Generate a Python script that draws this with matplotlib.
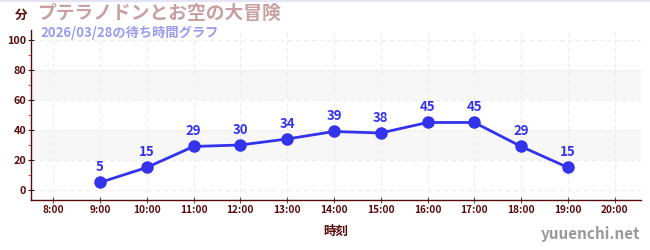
import matplotlib
matplotlib.use("Agg")
import matplotlib.pyplot as plt

plt.rcParams['font.family'] = ['Noto Sans CJK JP', 'DejaVu Sans']

hours = [9, 10, 11, 12, 13, 14, 15, 16, 17, 18, 19]
waits = [5, 15, 29, 30, 34, 39, 38, 45, 45, 29, 15]
xticks = list(range(8, 21))
xticklabels = [f"{h}:00" for h in xticks]
yticks = [0, 20, 40, 60, 80, 100]

title = "プテラノドンとお空の大冒険"
subtitle = "2026/03/28の待ち時間グラフ"

dark = "#5a0a0a"
blue = "#3333ee"

fig = plt.figure(figsize=(6.5, 2.5), dpi=100)
ax = fig.add_axes([0.048, 0.2, 0.938, 0.68])

ax.set_xlim(7.53, 20.56)
ax.set_ylim(-6.7, 106.7)

# 背景の帯
for lo, hi in [(20, 40), (60, 80)]:
    ax.axhspan(lo, hi, color="#f7f7f7", zorder=0, lw=0)

ax.set_xticks(xticks)
ax.set_xticklabels(xticklabels)
ax.set_yticks(yticks)
ax.set_yticks(range(10, 101, 20), minor=True)
ax.grid(True, which="major", linestyle=(0, (4, 3)), color="#ececec", lw=0.8)
ax.set_axisbelow(True)

for s in ["top", "right"]:
    ax.spines[s].set_visible(False)
for s in ["left", "bottom"]:
    ax.spines[s].set_color(dark)
    ax.spines[s].set_linewidth(1.0)

ax.tick_params(axis="x", direction="inout", length=5, colors="#555555", labelcolor=dark, labelsize=7.3, pad=1)
ax.tick_params(axis="y", which="major", direction="inout", length=5, colors="#222222", labelcolor=dark, labelsize=7.8, pad=1)
ax.tick_params(axis="y", which="minor", direction="out", length=2.5, colors="#dd2222")

for lab in ax.get_xticklabels() + ax.get_yticklabels():
    lab.set_fontweight("bold")

ax.plot(hours, waits, color=blue, lw=2.0, marker="o", markersize=8, zorder=3)
for x, y in zip(hours, waits):
    ax.annotate(str(y), xy=(x, y), xytext=(0, 6), textcoords="offset points",
                ha="center", va="bottom", color=blue, fontsize=9.5, fontweight="bold")

ax.set_xlabel("時刻", color=dark, fontsize=9, fontweight="bold", labelpad=7)

fig.text(0.032, 0.94, "分", color=dark, fontsize=9, fontweight="bold", ha="center", va="center")
fig.text(0.057, 0.945, title, color="#c8a0a0", fontsize=13.5, fontweight="bold", ha="left", va="center")
fig.text(0.062, 0.87, subtitle, color="#9a9af0", fontsize=9.5, fontweight="bold", ha="left", va="center")
fig.text(0.985, 0.065, "yuuenchi.net", color="#999999", fontsize=11, fontweight="bold", ha="right", va="center")

fig.add_artist(plt.Line2D([0, 1], [0.998, 0.998], color="#e4e4f4", lw=1.5))

fig.savefig("out.png", dpi=100)
